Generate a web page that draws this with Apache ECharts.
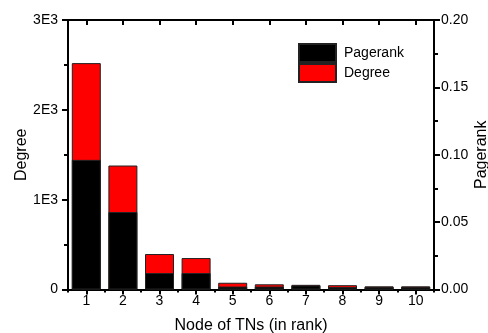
<!DOCTYPE html>
<html>
<head>
<meta charset="utf-8">
<script src="https://cdn.jsdelivr.net/npm/echarts@6/dist/echarts.min.js"></script>
<style>
html,body{margin:0;padding:0;background:#fff;}
#chart{width:488px;height:333px;}
</style>
</head>
<body>
<div id="chart"></div>
<script>
const categories = ['1','2','3','4','5','6','7','8','9','10'];
const degreeValues = [2520, 1380, 395, 350, 75, 58, 52, 48, 35, 35];
const pagerankValues = [0.0962, 0.0575, 0.0122, 0.0122, 0.0022, 0.0022, 0.0030, 0.0018, 0.0020, 0.0020];
const degreeTicks = {0:'0', 1000:'1E3', 2000:'2E3', 3000:'3E3'};

const FONT = 'Liberation Sans, Arial, sans-serif';
const lineStyle = {color:'#000', width:2};
const chart = echarts.init(document.getElementById('chart'), null, {renderer:'canvas'});

const baseX = {
  type:'category', data:categories, boundaryGap:true,
  axisLine:{show:true, lineStyle:lineStyle, onZero:false},
  splitLine:{show:false}
};

chart.setOption({
  animation:false,
  backgroundColor:'#fff',
  textStyle:{fontFamily:FONT, color:'#000'},
  grid:{left:68, right:54, top:20, bottom:43.5, containLabel:false, outerBoundsMode:'none'},
  legend:{
    orient:'vertical', left:298, top:43, padding:0, itemWidth:37, itemHeight:18, itemGap:0,
    icon:'rect', data:['Pagerank','Degree'],
    textStyle:{fontFamily:FONT, fontSize:14, color:'#000', padding:[0,0,0,3]}
  },
  xAxis:[
    Object.assign({}, baseX, {
      position:'bottom',
      name:'Node of TNs (in rank)', nameLocation:'middle', nameGap:28, nameMoveOverlap:false,
      nameTextStyle:{fontFamily:FONT, fontSize:16, color:'#000'},
      axisTick:{show:true, alignWithLabel:true, length:5, inside:false, lineStyle:{color:'#000', width:2}},
      axisLabel:{show:true, margin:5, fontFamily:FONT, fontSize:14, color:'#000'}
    }),
    Object.assign({}, baseX, {
      position:'bottom', axisLine:{show:false},
      axisTick:{show:true, length:3, inside:false, lineStyle:{color:'#000', width:2}},
      axisLabel:{show:false}
    }),
    Object.assign({}, baseX, {
      position:'top',
      axisTick:{show:true, alignWithLabel:true, length:5, inside:true, lineStyle:{color:'#000', width:2}},
      axisLabel:{show:false}
    }),
    Object.assign({}, baseX, {
      position:'top', axisLine:{show:false},
      axisTick:{show:true, length:3, inside:true, lineStyle:{color:'#000', width:2}},
      axisLabel:{show:false}
    })
  ],
  yAxis:[
    {
      type:'value', position:'left', min:0, max:3000, interval:1000,
      name:'Degree', nameLocation:'middle', nameGap:38, nameRotate:90, nameMoveOverlap:false,
      nameTextStyle:{fontFamily:FONT, fontSize:16, color:'#000'},
      axisLine:{show:true, lineStyle:lineStyle},
      axisTick:{show:true, length:6, inside:false, lineStyle:{color:'#000', width:2}},
      minorTick:{show:true, splitNumber:2, length:4, lineStyle:{color:'#000', width:2}},
      splitLine:{show:false},
      axisLabel:{margin:10, fontFamily:FONT, fontSize:14, color:'#000',
        formatter:function(v){ return degreeTicks[v] !== undefined ? degreeTicks[v] : String(v); }}
    },
    {
      type:'value', position:'right', min:0, max:0.2, interval:0.05,
      name:'Pagerank', nameLocation:'middle', nameGap:40, nameRotate:90, nameMoveOverlap:false,
      nameTextStyle:{fontFamily:FONT, fontSize:16, color:'#000'},
      axisLine:{show:true, lineStyle:lineStyle},
      axisTick:{show:true, length:6, inside:false, lineStyle:{color:'#000', width:2}},
      minorTick:{show:true, splitNumber:2, length:4, lineStyle:{color:'#000', width:2}},
      splitLine:{show:false},
      axisLabel:{margin:7, fontFamily:FONT, fontSize:14, color:'#000',
        formatter:function(v){ return v.toFixed(2); }}
    }
  ],
  series:[
    {
      name:'Degree', type:'bar', xAxisIndex:0, yAxisIndex:0, data:degreeValues,
      barWidth:29, barGap:'-100%',
      itemStyle:{color:'#ff0000', borderColor:'#222', borderWidth:1}
    },
    {
      name:'Pagerank', type:'bar', xAxisIndex:0, yAxisIndex:1, data:pagerankValues,
      barWidth:29, barGap:'-100%',
      itemStyle:{color:'#000000', borderColor:'#222', borderWidth:1}
    }
  ]
});
</script>
</body>
</html>
